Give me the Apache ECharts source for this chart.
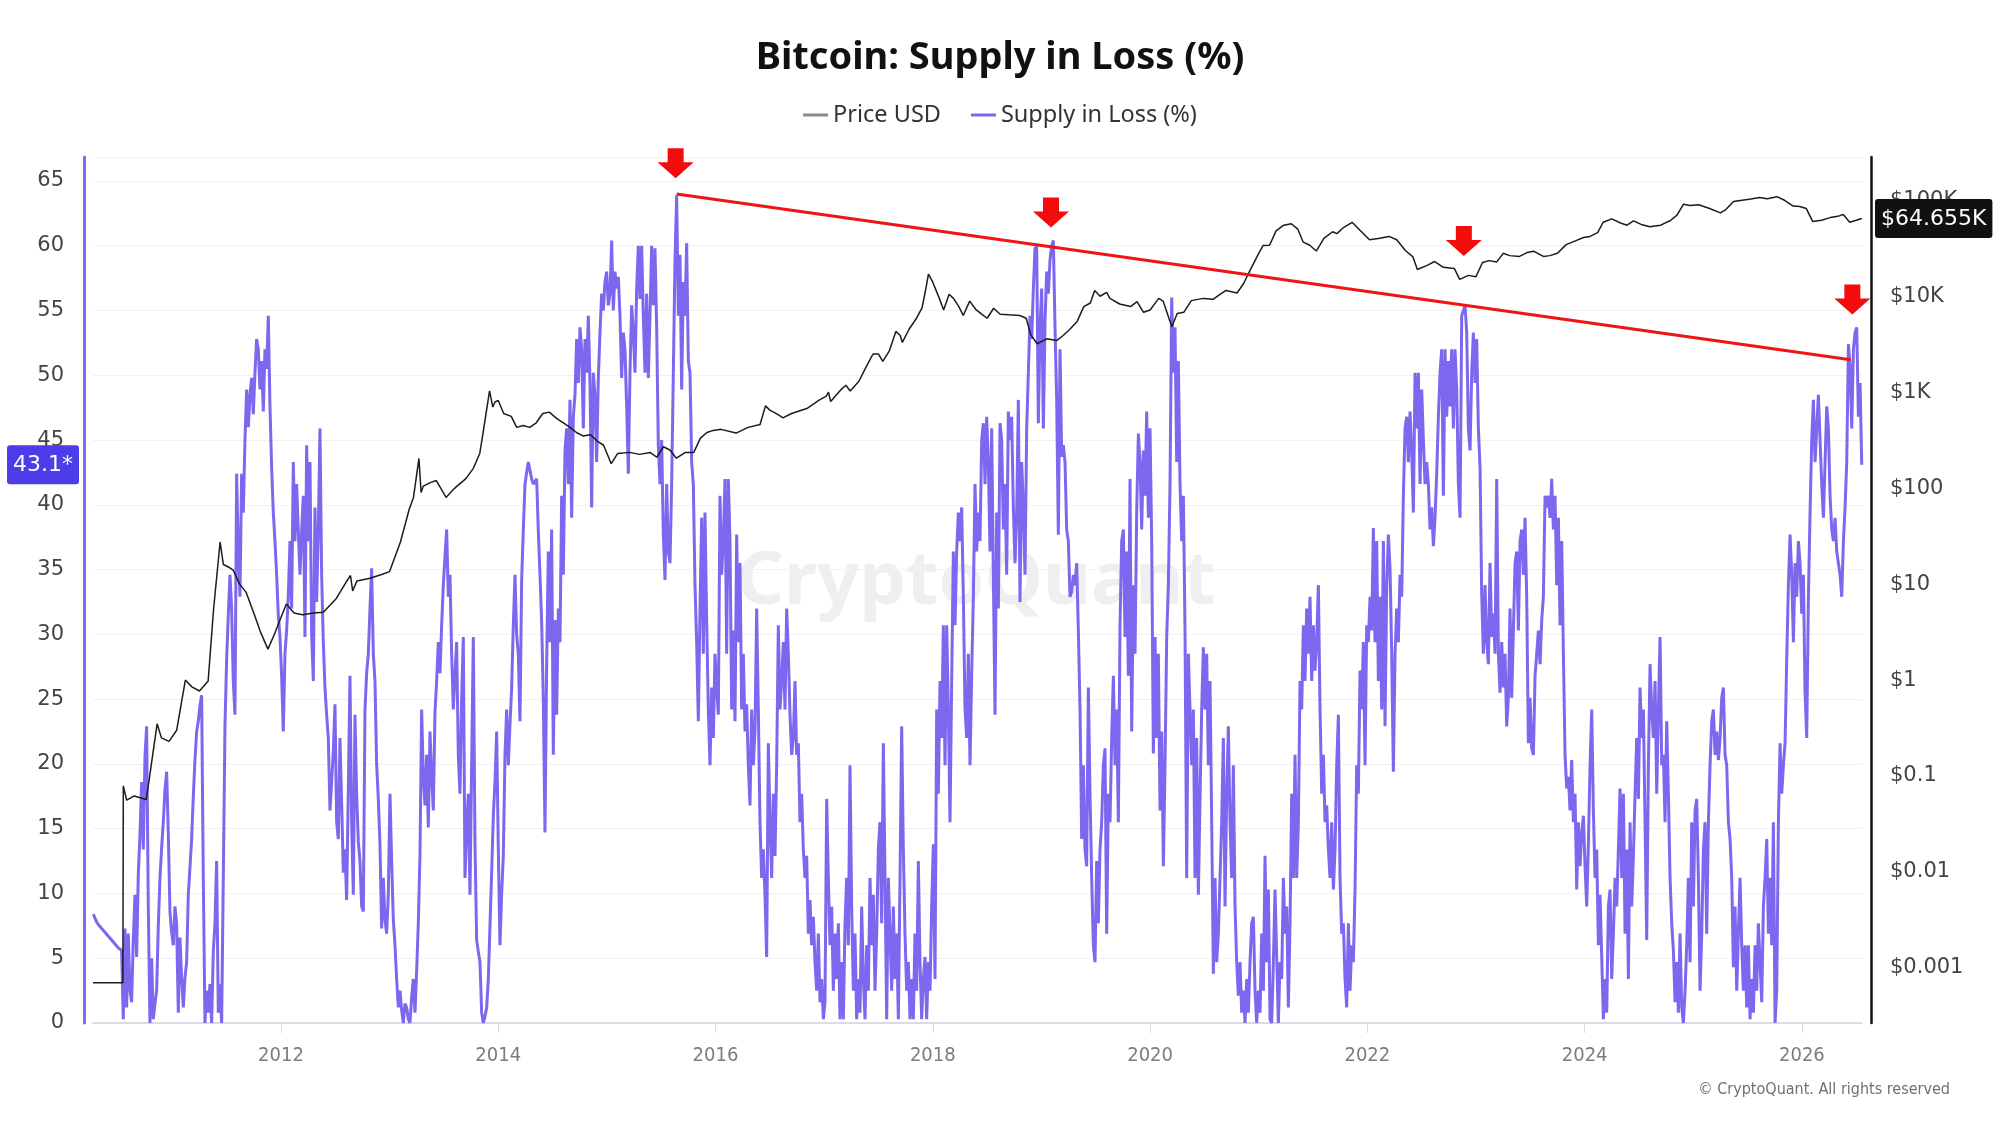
<!DOCTYPE html>
<html>
<head>
<meta charset="utf-8">
<title>Bitcoin: Supply in Loss (%)</title>
<script src="https://cdn.jsdelivr.net/npm/echarts@6/dist/echarts.min.js"></script>
<style>
    html, body { margin: 0; padding: 0; background: #fff; }
    #chart { width: 2000px; height: 1125px; }
</style>
</head>
<body>
<div id="chart"></div>
<script>
// supply in loss (%), one reading every 5.6 days, first one at lossStart (decimal year)
var lossStart = 2010.2727;
var lossStep = 0.015342;
var lossPct = [
    // 2010.27 - 2014.29
    8.4, 8.1, 7.8, 7.6, 7.5, 7.3, 7.2, 7.0, 6.9, 6.7, 6.6, 6.4, 6.3, 6.1, 6.0, 5.8, 5.7, 5.6, 0.3, 7.3,
    1.2, 6.9, 2.5, 1.6, 6.5, 9.9, 5.1, 11.5, 14.5, 18.6, 13.4, 20.5, 22.9, 9.0, 0, 5.0, 0.3, 1.5, 2.5, 7.5,
    11.2, 13.5, 15.5, 18, 19.4, 14.7, 8.6, 7, 6, 9, 7.7, 0.8, 6.6, 3.5, 1.2, 3.5, 4.7, 9.9, 12, 14.2,
    17.5, 20.3, 22.5, 23.3, 24.5, 25.3, 11.2, 0, 2.5, 0.8, 3.0, 0, 5.5, 7.7, 12.5, 0.8, 3.0, 0, 11.2, 22.9,
    28.1, 31.5, 34.6, 32, 26.4, 23.8, 42.4, 36.4, 32.9, 42.4, 39.4, 45, 48.9, 46, 48.5, 49.8, 47, 50.2, 52.8, 52,
    48.9, 51.1, 47.2, 52, 50.5, 54.6, 47.6, 42.9, 39.4, 37.2, 34.6, 31.5, 29.8, 26.8, 22.5, 28.5, 30.3, 33, 37.2, 32,
    43.3, 37.2, 41.6, 38, 34.6, 38, 40.7, 29.8, 44.6, 37.2, 43.3, 30, 26.4, 39.8, 32.5, 38, 45.9, 34.6, 29.4, 25.9,
    23.8, 22, 16.4, 18.6, 21, 24.6, 15.5, 14.2, 22, 17, 11.6, 13.4, 9.5, 18, 26.8, 15.5, 9.9, 23.8, 17.7, 14,
    12.5, 9, 8.6, 24.2, 27, 28.5, 32, 35.1, 28.5, 26.4, 20, 17.3, 13.8, 7.3, 11.2, 8, 6.9, 9.9, 17.7, 12.5,
    8, 6, 3.4, 1.2, 2.5, 1, 0, 1.5, 1.2, 0.3, 0, 2, 3.4, 0.8, 4, 7.7, 13, 24.2, 19, 16.8,
    20.7, 15.1, 22.5, 19, 16.4, 24, 26.4, 29.4, 27, 30.7, 33.8, 36, 38.1, 32.9, 34.6, 28.5, 24.2, 27, 29.4, 20.7,
    17.7, 25, 29.8, 11.2, 15, 17.7, 9.9, 20, 29.8, 13.8, 6.4, 5.5, 4.7, 0.8, 0, 0.5, 1.2, 3.4, 7.5, 11.6,
    16, 18.6, 22.5, 13.4, 6, 10, 12.9, 20.7, 24.2, 19.9, 23, 25.9, 30.7, 34.6, 30, 28.5, 23.3, 34.2, 38.1, 41.6,
    42.5, 43.3,
    // 2014.29 - 2018.34
    43.3, 42.0, 41.6, 41.8, 42.0, 38, 34.6, 31, 25, 14.7, 27.7, 36.4, 29.4, 38.1, 20.7, 31.1, 23.8, 32.0, 29.4, 40.7,
    34.6, 44.2, 45.9, 41.6, 48.1, 39.0, 46.8, 48.5, 52.8, 49.4, 53.7, 52.0, 45.9, 52.8, 50.2, 54.6, 49.4, 39.8, 50.2, 48.5,
    43.3, 49.8, 53.3, 56.3, 55.0, 57.2, 58.0, 55.4, 56.3, 60.4, 55.0, 58.0, 56.7, 57.6, 54.6, 49.8, 53.3, 52.0, 47.6, 42.4,
    50.2, 55.4, 53.3, 50.2, 56.7, 60.0, 55.9, 60.0, 54.6, 50.2, 56.3, 49.8, 54.6, 60.0, 55.4, 59.8, 53.7, 44.6, 41.6, 45.0,
    37.7, 34.2, 41.6, 36.4, 35.5, 41.6, 50.2, 58.9, 63.9, 54.6, 59.3, 48.9, 57.2, 54.6, 60.2, 51.1, 50.2, 43.3, 41.6, 33.8,
    29.4, 23.3, 32.0, 39.0, 28.5, 39.4, 31.1, 24.2, 19.9, 25.9, 22.0, 28.5, 25.9, 23.8, 40.7, 34.6, 37.2, 42.0, 28.5, 42.0,
    37.2, 24.2, 30.3, 23.3, 37.7, 29.4, 35.5, 24.2, 28.5, 22.5, 24.6, 19.9, 16.8, 24.2, 19.9, 22.5, 32.0, 24.2, 15.5, 11.2,
    13.4, 9.9, 5.1, 21.6, 15.5, 11.2, 17.7, 12.9, 19.9, 30.7, 24.2, 26.4, 29.4, 24.2, 32.0, 28.5, 23.8, 20.7, 22.0, 26.4,
    20.7, 21.6, 15.5, 17.7, 13.4, 11.2, 12.9, 6.9, 9.5, 6.0, 8.2, 4.7, 2.5, 6.9, 1.6, 3.4, 0.3, 1.6, 17.3, 11.2,
    6.0, 9.0, 2.5, 6.9, 3.4, 7.7, 0.3, 4.7, 0.3, 7.7, 11.2, 6.0, 19.9, 9.0, 2.5, 6.9, 0.3, 3.4, 0.8, 9.0,
    3.4, 0.3, 6.0, 2.5, 11.2, 6.0, 9.9, 2.5, 6.9, 13.4, 15.5, 7.7, 21.6, 11.2, 0.3, 11.2, 6.9, 2.5, 9.0, 3.4,
    6.9, 0.3, 11.2, 22.9, 13.4, 6.9, 2.5, 4.7, 0.3, 3.4, 0.3, 6.9, 2.5, 12.5, 4.7, 0.3, 3.4, 5.1, 0.3, 4.7,
    2.5, 9.0, 13.8, 3.4, 24.2, 17.7, 26.4, 22.0, 30.7, 19.9, 30.7, 24.2, 15.5, 26.4, 36.4, 30.7, 36.4, 39.4, 37.2, 39.8,
    32.9, 24.2, 22.0, 28.5,
    // 2018.34 - 2022.39
    19.9, 27, 32.9, 41.6, 36.4, 39.4, 37.2, 45.0, 46.3, 41.6, 46.8, 43.3, 36.4, 45.9, 34.6, 23.8, 39.4, 32.0, 46.3, 45.0,
    38.1, 41.6, 34.6, 47.2, 45.0, 46.8, 39.8, 35.5, 39.4, 48.1, 32.5, 43.3, 39.8, 34.6, 45.9, 50.2, 54.6, 52.8, 56.7, 59.8,
    60.0, 46.3, 53.7, 56.7, 45.9, 54.1, 58.0, 56.3, 58.9, 60.0, 60.4, 53.7, 48.1, 37.7, 52.0, 43.7, 44.6, 43.3, 38.1, 37.2,
    32.9, 33.3, 34.6, 33.8, 35.5, 30.3, 24.2, 14.2, 19.9, 13.4, 12.1, 25.9, 17.7, 11.2, 6.0, 4.7, 12.5, 7.7, 13.4, 15.5,
    19.9, 21.2, 6.9, 17.7, 15.5, 22.0, 26.8, 19.9, 24.2, 15.5, 30.7, 37.2, 38.1, 29.8, 36.4, 26.8, 42.0, 22.5, 33.8, 28.5,
    39.4, 45.5, 43.3, 38.1, 44.2, 40.7, 47.2, 39.0, 45.9, 37.2, 20.8, 29.8, 22.0, 28.5, 16.4, 22.5, 12.1, 19.9, 29.8, 33.8,
    41.6, 56.0, 50.2, 53.7, 43.3, 51.1, 41.6, 37.2, 40.7, 30.3, 11.2, 28.5, 24.2, 19.9, 24.2, 11.2, 22.0, 9.9, 17.3, 24.2,
    29.0, 24.2, 28.5, 19.9, 26.4, 15.5, 3.8, 11.2, 4.7, 6.9, 11.2, 15.5, 22.0, 9.0, 17.7, 22.9, 15.5, 11.2, 19.9, 9.0,
    4.7, 2.1, 4.7, 0.8, 2.5, 0, 3.4, 0.8, 4.7, 7.7, 8.2, 2.5, 0, 2.5, 0.8, 6.9, 2.5, 12.9, 4.7, 10.3,
    0.3, 0, 4.7, 10.3, 5.1, 0, 4.7, 3.4, 11.2, 6.9, 9.0, 1.2, 7.7, 17.7, 11.2, 20.7, 11.2, 15.5, 26.4, 24.2,
    30.7, 26.4, 32.0, 28.5, 32.9, 26.4, 30.7, 27.2, 29.4, 33.8, 24.2, 17.7, 20.7, 15.5, 16.8, 13.4, 11.2, 15.5, 10.3, 13.4,
    19.9, 23.8, 11.2, 6.9, 7.7, 3.4, 1.2, 7.7, 2.5, 6.0, 4.7, 10.3, 19.9, 17.7, 27.2, 24.2, 29.4, 19.9, 30.7, 29.4,
    32.9, 30.3, 38.2, 29.4, 37.2, 26.4, 32.9, 24.2, 37.2, 22.9, 33.8, 37.7, 35.1, 28.5, 19.4, 28.5, 32.0, 29.4, 34.6, 32.9,
    40.7, 45.9, 46.8, 43.3,
    // 2022.39 - 2026.55
    47.2, 44, 39.4, 50.2, 45.9, 50.2, 41.6, 48.9, 45.0, 41.6, 43.3, 41.6, 38.1, 39.8, 36.8, 39.0, 42.4, 46.8, 50.2, 52.0,
    40.7, 52.0, 46.8, 51.1, 47.6, 52.0, 45.9, 52.0, 48.9, 41.6, 39.0, 54.6, 55.0, 55.4, 53.3, 45.9, 44.2, 50.2, 53.3, 49.4,
    52.8, 45.9, 42.9, 33.1, 28.5, 33.8, 29.4, 27.7, 35.5, 29.8, 31.6, 28.5, 42.0, 28.5, 25.5, 29.4, 25.9, 28.5, 22.9, 25.1,
    32.0, 25.1, 30.3, 35.5, 36.4, 30.3, 37.2, 38.1, 34.6, 39.0, 32.9, 21.6, 25.1, 21.2, 20.7, 26.8, 28.5, 30.3, 27.7, 31.1,
    32.9, 40.7, 39.8, 40.7, 39.0, 42.0, 38.1, 40.7, 33.8, 39.0, 30.7, 37.2, 28.5, 20.7, 18.1, 19.0, 16.4, 20.3, 15.5, 17.7,
    10.3, 15.5, 12.1, 14.7, 16.0, 12.1, 9.0, 13.8, 19.9, 24.2, 16.4, 11.2, 13.4, 6.0, 9.9, 5.1, 0.3, 3.4, 0.8, 9.0,
    10.3, 3.4, 6.9, 11.2, 9.0, 13.4, 18.1, 11.2, 17.7, 6.9, 13.4, 3.4, 15.5, 9.0, 12.9, 17.7, 22.0, 17.3, 25.9, 22.0,
    24.2, 15.5, 6.4, 19.9, 27.7, 24.2, 22.0, 26.4, 17.7, 24.2, 29.8, 19.9, 20.7, 15.5, 23.3, 17.7, 11.2, 7.7, 5.6, 1.6,
    4.7, 0.8, 6.9, 1.2, 0, 2.5, 6.0, 11.2, 4.7, 15.5, 9.0, 16.4, 17.3, 11.2, 2.5, 6.9, 13.4, 15.5, 6.9, 15.5,
    19.9, 23.3, 24.2, 20.7, 22.5, 20.3, 22.0, 25.1, 25.9, 20.7, 19.9, 15.5, 14.2, 11.2, 4.3, 9.0, 2.5, 6.9, 11.2, 6.0,
    2.5, 6.0, 1.2, 6.0, 0.3, 3.4, 0.8, 6.0, 2.5, 7.7, 4.7, 1.6, 9.0, 11.2, 14.2, 6.9, 11.2, 6.0, 15.5, 0,
    2.5, 15.5, 21.6, 17.7, 19.9, 21.6, 28.1, 33.8, 37.7, 34.6, 29.4, 35.5, 32.9, 37.2, 35.5, 31.6, 34.6, 25.5, 22.0, 32.9,
    39.4, 45.0, 48.1, 43.3, 45.9, 48.5, 45.0, 41.6, 39.0, 43.3, 47.6, 45.9, 40.7, 38.1, 37.2, 39.0, 36.4, 35.5, 34.6, 32.9,
    37.2, 39.8, 43.3, 52.4, 50.7, 45.9, 52.0, 53.3, 53.7, 46.8, 49.4, 43.1
];

// price USD, [decimal year, price]
var pricePoints = [
    [2010.27, 0.0007], [2010.545, 0.0007], [2010.549, 0.079], [2010.58, 0.056], [2010.65, 0.062], [2010.76, 0.057],
    [2010.79, 0.097], [2010.86, 0.35], [2010.90, 0.25], [2010.97, 0.23], [2011.04, 0.3], [2011.12, 1.0],
    [2011.18, 0.85], [2011.25, 0.77], [2011.33, 0.98], [2011.38, 5.5], [2011.44, 27.5], [2011.47, 16],
    [2011.52, 15], [2011.56, 14], [2011.62, 10], [2011.68, 8.2], [2011.75, 5], [2011.81, 3.2],
    [2011.88, 2.1], [2011.94, 3.0], [2011.99, 4.2], [2012.05, 6.2], [2012.12, 5.0], [2012.20, 4.8],
    [2012.30, 5.0], [2012.39, 5.1], [2012.51, 7.1], [2012.60, 10.5], [2012.64, 12.3], [2012.66, 8.5],
    [2012.70, 10.8], [2012.82, 11.5], [2012.92, 12.5], [2013.00, 13.5], [2013.10, 27.5], [2013.18, 60],
    [2013.22, 80], [2013.27, 204], [2013.29, 90], [2013.31, 105], [2013.38, 115], [2013.43, 120],
    [2013.52, 80], [2013.58, 95], [2013.62, 105], [2013.70, 125], [2013.77, 160], [2013.83, 230],
    [2013.86, 375], [2013.92, 1030], [2013.95, 700], [2013.97, 790], [2014.00, 820], [2014.05, 600],
    [2014.12, 560], [2014.17, 430], [2014.23, 450], [2014.29, 430], [2014.35, 480], [2014.41, 600],
    [2014.47, 620], [2014.54, 530], [2014.60, 480], [2014.66, 430], [2014.72, 380], [2014.78, 350],
    [2014.85, 360], [2014.91, 310], [2014.97, 280], [2015.04, 180], [2015.10, 230], [2015.21, 236],
    [2015.30, 225], [2015.40, 235], [2015.46, 210], [2015.52, 270], [2015.58, 250], [2015.64, 205],
    [2015.72, 235], [2015.80, 236], [2015.86, 330], [2015.92, 380], [2015.98, 400], [2016.05, 410],
    [2016.19, 375], [2016.30, 430], [2016.41, 460], [2016.46, 720], [2016.50, 650], [2016.58, 580],
    [2016.62, 540], [2016.70, 600], [2016.84, 675], [2016.95, 820], [2017.02, 910], [2017.04, 1000],
    [2017.06, 800], [2017.15, 1050], [2017.20, 1180], [2017.24, 1030], [2017.32, 1300], [2017.39, 1870],
    [2017.45, 2500], [2017.50, 2500], [2017.54, 2100], [2017.60, 2700], [2017.66, 4300], [2017.70, 3900],
    [2017.72, 3300], [2017.78, 4500], [2017.85, 5900], [2017.90, 7500], [2017.93, 11000], [2017.96, 17000],
    [2018.00, 14000], [2018.06, 9500], [2018.10, 7200], [2018.15, 10500], [2018.19, 9500], [2018.24, 7800],
    [2018.28, 6300], [2018.34, 8900], [2018.40, 7200], [2018.45, 6500], [2018.50, 5900], [2018.56, 7500],
    [2018.62, 6500], [2018.70, 6400], [2018.80, 6300], [2018.86, 5900], [2018.90, 4000], [2018.96, 3200],
    [2019.05, 3600], [2019.14, 3450], [2019.20, 3900], [2019.26, 4500], [2019.33, 5500], [2019.39, 7800],
    [2019.45, 8500], [2019.49, 11500], [2019.54, 10000], [2019.60, 11000], [2019.63, 9500], [2019.72, 8300],
    [2019.82, 7800], [2019.88, 8800], [2019.94, 6800], [2020.00, 7200], [2020.08, 9500], [2020.12, 8900],
    [2020.20, 4800], [2020.25, 6600], [2020.31, 6800], [2020.38, 9000], [2020.49, 9500], [2020.58, 9300],
    [2020.64, 10400], [2020.70, 11500], [2020.80, 10800], [2020.86, 13500], [2020.92, 18600], [2021.00, 28000],
    [2021.04, 33700], [2021.10, 34000], [2021.16, 48000], [2021.23, 55000], [2021.30, 57000], [2021.36, 50000],
    [2021.41, 36600], [2021.47, 34000], [2021.53, 29600], [2021.60, 40000], [2021.68, 47000], [2021.72, 44900],
    [2021.78, 52000], [2021.86, 59000], [2021.93, 49000], [2022.02, 38800], [2022.10, 40000], [2022.20, 42000],
    [2022.27, 38800], [2022.35, 30000], [2022.42, 25700], [2022.46, 19000], [2022.55, 21000], [2022.62, 23000],
    [2022.70, 20000], [2022.80, 19500], [2022.85, 15000], [2022.93, 16500], [2023.00, 16000], [2023.06, 22500],
    [2023.12, 23500], [2023.19, 22700], [2023.25, 28000], [2023.31, 26500], [2023.40, 26000], [2023.47, 28500],
    [2023.53, 29500], [2023.62, 26000], [2023.68, 26500], [2023.75, 28000], [2023.83, 34500], [2023.92, 38000],
    [2023.99, 41000], [2024.05, 42000], [2024.12, 46000], [2024.17, 59000], [2024.25, 64000], [2024.33, 58000],
    [2024.39, 55000], [2024.45, 61000], [2024.52, 56000], [2024.60, 53000], [2024.70, 55000], [2024.79, 61600],
    [2024.85, 70000], [2024.91, 91000], [2024.97, 88000], [2025.05, 90000], [2025.15, 82000], [2025.25, 74000],
    [2025.30, 80000], [2025.37, 97000], [2025.45, 100000], [2025.53, 103000], [2025.61, 107000], [2025.68, 104000],
    [2025.77, 109000], [2025.84, 100000], [2025.92, 87000], [2025.98, 86000], [2026.04, 82000], [2026.10, 60000],
    [2026.18, 62000], [2026.26, 66000], [2026.33, 68000], [2026.38, 71000], [2026.44, 59000], [2026.50, 62000],
    [2026.551, 64655]
];

// red trend line over the cycle tops
var trendYears = [2015.642, 2026.45];
var trendPct = [64.0, 51.2];

// red arrows, year and the value their tip points at
var arrowYears = [2015.633, 2019.088, 2022.888, 2026.464];
var arrowTips = [65.2, 61.4, 59.2, 54.7];

var purple = '#7b68ee';
var axisFont = 'DejaVu Sans';
var narrowFont = '"Liberation Sans Narrow", "DejaVu Sans Condensed", Roboto, sans-serif';

/**
 * $ labels for the log price axis
 */
function fmtUsd(v) {
    if (v >= 1000) {
        return '$' + Math.round(v / 1000) + 'K';
    }
    if (v >= 1) {
        return '$' + Math.round(v);
    }
    return '$' + parseFloat(v.toPrecision(1));
}

var lossData = [];
for (var i = 0; i < lossPct.length; i++) {
    lossData.push([lossStart + i * lossStep, lossPct[i]]);
}
var lastLoss = lossPct[lossPct.length - 1];
var lastPrice = pricePoints[pricePoints.length - 1][1];

var arrowData = [];
for (var a = 0; a < arrowYears.length; a++) {
    arrowData.push({coord: [arrowYears[a], arrowTips[a]]});
}

var chart = echarts.init(document.getElementById('chart'));
var option = {
    backgroundColor: '#fff',
    animation: false,
    title: {
        text: 'Bitcoin: Supply in Loss (%)',
        left: 'center',
        top: 34,
        textStyle: {fontFamily: 'Noto Sans', fontWeight: 'bold', fontSize: 38, color: '#111'}
    },
    legend: {
        top: 98,
        left: 'center',
        icon: 'rect',
        itemWidth: 25,
        itemHeight: 3,
        itemGap: 30,
        textStyle: {fontFamily: 'Noto Sans', fontSize: 23.5, color: '#333'},
        data: [
            {name: 'Price USD', itemStyle: {color: '#8a8a8a'}},
            {name: 'Supply in Loss (%)', itemStyle: {color: purple}}
        ]
    },
    grid: {left: 93, right: 138, top: 157, bottom: 102},
    graphic: [
        {
            type: 'text',
            x: 976,
            y: 583,
            z: 0,
            style: {
                text: 'CryptoQuant',
                textAlign: 'center',
                textVerticalAlign: 'middle',
                font: 'bold 74px "Noto Sans"',
                fill: 'rgba(110, 110, 130, 0.11)'
            }
        },
        {
            type: 'text',
            right: 50,
            top: 1082,
            style: {
                text: '\u00a9 CryptoQuant. All rights reserved',
                font: '16px ' + narrowFont,
                fill: '#707070'
            }
        }
    ],
    xAxis: {
        type: 'value',
        min: 2010.27,
        max: 2026.553,
        splitNumber: 8,
        splitLine: {show: false},
        axisLine: {lineStyle: {color: '#d2d2e0', width: 1.5}},
        axisTick: {length: 10, lineStyle: {color: '#dcdcdc'}},
        axisLabel: {
            showMinLabel: false,
            showMaxLabel: false,
            formatter: function (v) { return String(v); },
            color: '#7c7c7c',
            fontFamily: narrowFont,
            fontSize: 20,
            margin: 23
        }
    },
    yAxis: [
        {
            type: 'value',
            position: 'left',
            min: 0,
            max: 66.85,
            interval: 5,
            offset: 9,
            axisLine: {show: true, lineStyle: {color: '#7b6cf0', width: 3}},
            axisTick: {show: false},
            axisLabel: {showMaxLabel: false, color: '#444', fontFamily: axisFont, fontSize: 21, margin: 20},
            splitLine: {lineStyle: {color: '#f1f1f4'}},
            axisPointer: {
                show: true,
                status: 'show',
                value: lastLoss,
                triggerTooltip: false,
                lineStyle: {opacity: 0},
                label: {
                    show: true,
                    formatter: function () { return lastLoss.toFixed(1) + '*'; },
                    backgroundColor: '#4b3de8',
                    color: '#fff',
                    fontFamily: axisFont,
                    fontSize: 22,
                    padding: [9, 6, 8, 6],
                    margin: 5
                }
            }
        },
        {
            type: 'log',
            position: 'right',
            min: 0.000267,
            max: 282500,
            offset: 9,
            axisLine: {show: true, lineStyle: {color: '#111', width: 2.5}},
            axisTick: {show: false},
            splitLine: {show: false},
            axisLabel: {
                showMinLabel: false,
                showMaxLabel: false,
                formatter: fmtUsd,
                color: '#444',
                fontFamily: axisFont,
                fontSize: 21,
                margin: 19
            },
            axisPointer: {
                show: true,
                status: 'show',
                value: lastPrice,
                triggerTooltip: false,
                lineStyle: {opacity: 0},
                label: {
                    show: true,
                    formatter: function () { return '$' + (lastPrice / 1000).toFixed(3) + 'K'; },
                    backgroundColor: '#111',
                    color: '#fff',
                    fontFamily: axisFont,
                    fontSize: 22,
                    padding: [9, 6, 8, 6],
                    margin: 4
                }
            }
        }
    ],
    series: [
        {
            name: 'Supply in Loss (%)',
            type: 'line',
            yAxisIndex: 0,
            data: lossData,
            symbol: 'none',
            lineStyle: {color: purple, width: 3},
            itemStyle: {color: purple},
            z: 2,
            markLine: {
                silent: true,
                symbol: ['none', 'none'],
                label: {show: false},
                lineStyle: {color: '#f01414', width: 3, type: 'solid'},
                data: [[
                    {coord: [trendYears[0], trendPct[0]]},
                    {coord: [trendYears[1], trendPct[1]]}
                ]]
            },
            markPoint: {
                silent: true,
                symbol: 'path://M10,0L26,0L26,14L36,14L18,30L0,14L10,14Z',
                symbolSize: [36, 30],
                symbolOffset: [0, '-50%'],
                itemStyle: {color: '#f20c0c'},
                label: {show: false},
                data: arrowData
            }
        },
        {
            name: 'Price USD',
            type: 'line',
            yAxisIndex: 1,
            data: pricePoints,
            symbol: 'none',
            lineStyle: {color: '#1c1c1c', width: 1.5},
            itemStyle: {color: '#1c1c1c'},
            z: 3
        }
    ]
};
chart.setOption(option);
</script>
</body>
</html>
